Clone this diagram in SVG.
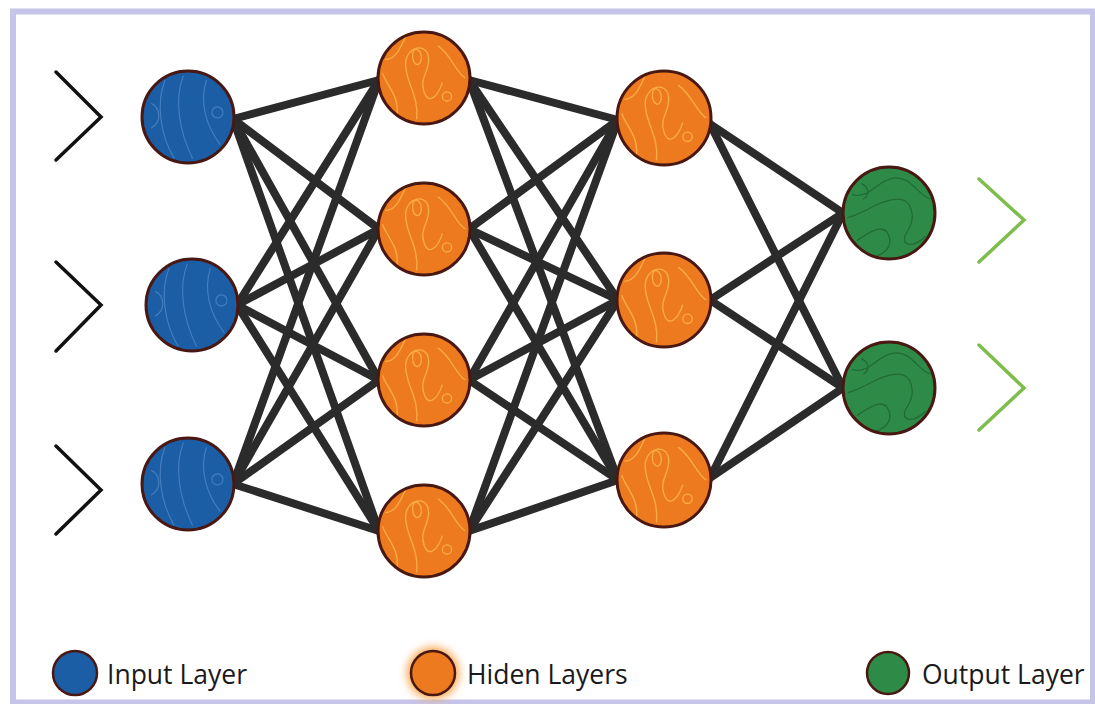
<svg xmlns="http://www.w3.org/2000/svg" width="1095" height="704" viewBox="0 0 1095 704">
<style>
.frame{fill:#ffffff;stroke:#c6c4e8;stroke-width:6}
.edge{stroke:#2b2b2b;stroke-width:8;stroke-linecap:round}
.ring{fill:none;stroke:#4a1812;stroke-width:3}
.in{fill:#1b5ea6}
.hid{fill:#ee7a1f}
.out{fill:#2d8a47}
.chev{fill:none;stroke:#111;stroke-width:3.5;stroke-linecap:round;stroke-linejoin:miter}
.chevg{fill:none;stroke:#7dbd4c;stroke-width:3.5;stroke-linecap:round;stroke-linejoin:miter}
.lbl{font-family:"Open Sans","Noto Sans","Liberation Sans",sans-serif;font-size:26.5px;fill:#1a1a1a}
</style>
<defs>
<pattern id="tb" patternContentUnits="objectBoundingBox" width="1" height="1">
<g fill="none" stroke="#4d86c8" stroke-width="0.012" opacity="0.8">
<path d="M0.25,0.1 C0.15,0.35 0.2,0.7 0.35,0.95"/>
<path d="M0.45,0.05 C0.35,0.3 0.4,0.65 0.55,0.95"/>
<path d="M0.7,0.1 C0.62,0.35 0.7,0.6 0.85,0.8"/>
<path d="M0.1,0.35 C0.2,0.4 0.22,0.55 0.1,0.62"/>
<circle cx="0.82" cy="0.45" r="0.06"/>
</g>
</pattern>
<pattern id="to" patternContentUnits="objectBoundingBox" width="1" height="1">
<g fill="none" stroke="#f9ad45" stroke-width="0.014">
<path d="M0.2,0.95 C0.25,0.7 0.1,0.6 0.05,0.45"/>
<path d="M0.42,0.95 C0.45,0.7 0.3,0.55 0.3,0.35 C0.3,0.15 0.55,0.1 0.55,0.3 C0.55,0.45 0.45,0.5 0.5,0.65 C0.55,0.8 0.65,0.7 0.7,0.55"/>
<path d="M0.38,0.22 C0.36,0.35 0.45,0.4 0.47,0.3 C0.48,0.2 0.4,0.15 0.38,0.22"/>
<path d="M0.65,0.15 C0.8,0.25 0.85,0.45 0.95,0.5"/>
<circle cx="0.75" cy="0.7" r="0.05"/>
<path d="M0.08,0.3 C0.2,0.3 0.25,0.15 0.3,0.05"/>
</g>
</pattern>
<pattern id="tg" patternContentUnits="objectBoundingBox" width="1" height="1">
<g fill="none" stroke="#1f6b33" stroke-width="0.014">
<path d="M0.1,0.3 C0.3,0.35 0.35,0.15 0.55,0.12 C0.75,0.1 0.8,0.3 0.95,0.35"/>
<path d="M0.05,0.55 C0.25,0.5 0.4,0.35 0.6,0.35 C0.75,0.35 0.8,0.55 0.7,0.7 C0.6,0.85 0.75,0.9 0.9,0.75"/>
<path d="M0.15,0.8 C0.3,0.7 0.45,0.6 0.5,0.75 C0.55,0.9 0.4,0.95 0.35,0.98"/>
<path d="M0.2,0.18 C0.28,0.22 0.3,0.3 0.22,0.35"/>
</g>
</pattern>
<filter id="glow" x="-60%" y="-60%" width="220%" height="220%">
<feGaussianBlur stdDeviation="4"/>
</filter>
</defs>

<rect class="frame" x="13" y="11.5" width="1080" height="691"/>

<g id="inputs-arrows">
<polyline class="chev" points="56,72 101,117 56,160"/>
<polyline class="chev" points="56,262 101,305 56,351"/>
<polyline class="chev" points="56,446 101,490 56,534"/>
</g>
<g id="output-arrows">
<polyline class="chevg" points="979,179 1024,220 979,262"/>
<polyline class="chevg" points="979,345 1024,388 979,430"/>
</g>

<g id="connectors">
<line class="edge" x1="233" y1="119" x2="379" y2="80"/>
<line class="edge" x1="233" y1="119" x2="379" y2="229"/>
<line class="edge" x1="233" y1="119" x2="379" y2="380"/>
<line class="edge" x1="233" y1="119" x2="379" y2="531"/>
<line class="edge" x1="237" y1="305" x2="379" y2="80"/>
<line class="edge" x1="237" y1="305" x2="379" y2="229"/>
<line class="edge" x1="237" y1="305" x2="379" y2="380"/>
<line class="edge" x1="237" y1="305" x2="379" y2="531"/>
<line class="edge" x1="233" y1="484" x2="379" y2="80"/>
<line class="edge" x1="233" y1="484" x2="379" y2="229"/>
<line class="edge" x1="233" y1="484" x2="379" y2="380"/>
<line class="edge" x1="233" y1="484" x2="379" y2="531"/>
<line class="edge" x1="469" y1="80" x2="618" y2="120"/>
<line class="edge" x1="469" y1="80" x2="618" y2="300"/>
<line class="edge" x1="469" y1="80" x2="618" y2="480"/>
<line class="edge" x1="469" y1="229" x2="618" y2="120"/>
<line class="edge" x1="469" y1="229" x2="618" y2="300"/>
<line class="edge" x1="469" y1="229" x2="618" y2="480"/>
<line class="edge" x1="469" y1="380" x2="618" y2="120"/>
<line class="edge" x1="469" y1="380" x2="618" y2="300"/>
<line class="edge" x1="469" y1="380" x2="618" y2="480"/>
<line class="edge" x1="469" y1="531" x2="618" y2="120"/>
<line class="edge" x1="469" y1="531" x2="618" y2="300"/>
<line class="edge" x1="469" y1="531" x2="618" y2="480"/>
<line class="edge" x1="710" y1="124" x2="843" y2="213"/>
<line class="edge" x1="710" y1="124" x2="843" y2="388"/>
<line class="edge" x1="710" y1="300" x2="843" y2="213"/>
<line class="edge" x1="710" y1="300" x2="843" y2="388"/>
<line class="edge" x1="710" y1="478" x2="843" y2="213"/>
<line class="edge" x1="710" y1="478" x2="843" y2="388"/>
</g>

<g id="in1"><circle class="in" cx="188" cy="117" r="46"/><circle fill="url(#tb)" cx="188" cy="117" r="46"/><circle class="ring" cx="188" cy="117" r="46"/></g>
<g id="in2"><circle class="in" cx="192" cy="305" r="46"/><circle fill="url(#tb)" cx="192" cy="305" r="46"/><circle class="ring" cx="192" cy="305" r="46"/></g>
<g id="in3"><circle class="in" cx="188" cy="484" r="46"/><circle fill="url(#tb)" cx="188" cy="484" r="46"/><circle class="ring" cx="188" cy="484" r="46"/></g>

<g id="h1a"><circle class="hid" cx="424" cy="78" r="46"/><circle fill="url(#to)" cx="424" cy="78" r="46"/><circle class="ring" cx="424" cy="78" r="46"/></g>
<g id="h1b"><circle class="hid" cx="424" cy="229" r="46"/><circle fill="url(#to)" cx="424" cy="229" r="46"/><circle class="ring" cx="424" cy="229" r="46"/></g>
<g id="h1c"><circle class="hid" cx="424" cy="380" r="46"/><circle fill="url(#to)" cx="424" cy="380" r="46"/><circle class="ring" cx="424" cy="380" r="46"/></g>
<g id="h1d"><circle class="hid" cx="424" cy="531" r="46"/><circle fill="url(#to)" cx="424" cy="531" r="46"/><circle class="ring" cx="424" cy="531" r="46"/></g>

<g id="h2a"><circle class="hid" cx="664" cy="118" r="47"/><circle fill="url(#to)" cx="664" cy="118" r="47"/><circle class="ring" cx="664" cy="118" r="47"/></g>
<g id="h2b"><circle class="hid" cx="664" cy="300" r="47"/><circle fill="url(#to)" cx="664" cy="300" r="47"/><circle class="ring" cx="664" cy="300" r="47"/></g>
<g id="h2c"><circle class="hid" cx="664" cy="480" r="47"/><circle fill="url(#to)" cx="664" cy="480" r="47"/><circle class="ring" cx="664" cy="480" r="47"/></g>

<g id="o1"><circle class="out" cx="889" cy="213" r="46"/><circle fill="url(#tg)" cx="889" cy="213" r="46"/><circle class="ring" cx="889" cy="213" r="46"/></g>
<g id="o2"><circle class="out" cx="889" cy="388" r="46"/><circle fill="url(#tg)" cx="889" cy="388" r="46"/><circle class="ring" cx="889" cy="388" r="46"/></g>

<g id="legend-input">
<circle class="in" cx="75" cy="673" r="22"/><circle class="ring" cx="75" cy="673" r="22" style="stroke-width:2.5"/>
<text class="lbl" x="107" y="684">Input Layer</text>
</g>
<g id="legend-hidden">
<circle cx="433" cy="673" r="26" fill="#f6a650" filter="url(#glow)"/>
<circle class="hid" cx="433" cy="673" r="22"/><circle class="ring" cx="433" cy="673" r="22" style="stroke-width:2.5"/>
<text class="lbl" x="467" y="684">Hiden Layers</text>
</g>
<g id="legend-output">
<circle class="out" cx="888" cy="673" r="21"/><circle class="ring" cx="888" cy="673" r="21" style="stroke-width:2.5"/>
<text class="lbl" x="922" y="684">Output Layer</text>
</g>
</svg>
